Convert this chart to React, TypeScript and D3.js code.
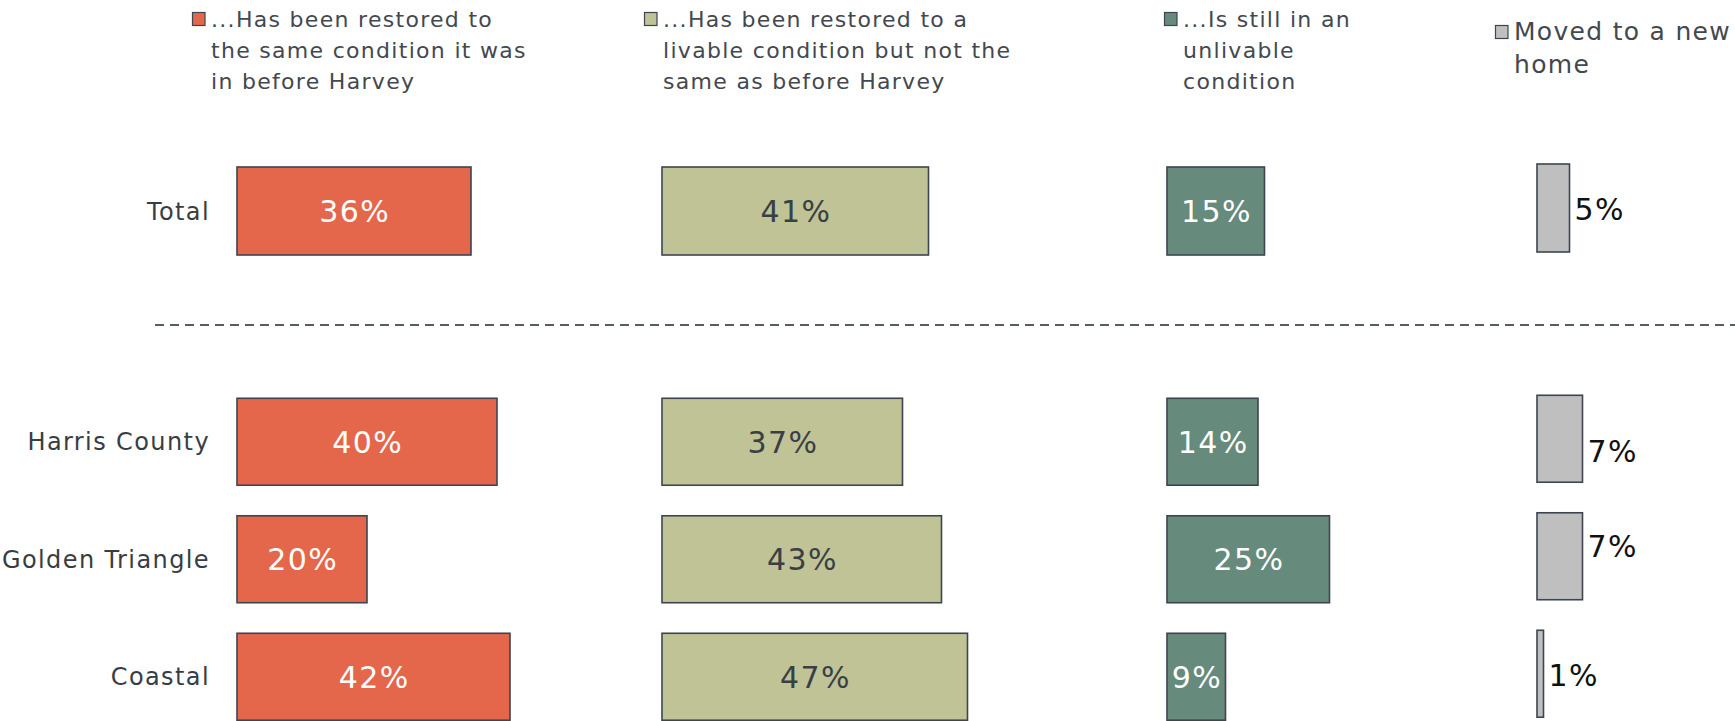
import React from "react";
import * as d3 from "d3";

// ---- Data ----
const CATEGORIES = ["Total", "Harris County", "Golden Triangle", "Coastal"];
const SERIES_KEYS = ["restoredSame", "restoredLivable", "unlivable", "moved"];
const LEGEND_LINES = [
  ["...Has been restored to", "the same condition it was", "in before Harvey"],
  ["...Has been restored to a", "livable condition but not the", "same as before Harvey"],
  ["...Is still in an", "unlivable", "condition"],
  ["Moved to a new", "home"],
];
const RESTORED_SAME = [36, 40, 20, 42];
const RESTORED_LIVABLE = [41, 37, 43, 47];
const UNLIVABLE = [15, 14, 25, 9];
const MOVED = [5, 7, 7, 1];

// ---- Layout / style ----
const W = 1735;
const H = 721;
const COLORS = ["#E5674B", "#BFC396", "#668A7B", "#BFBFBF"];
const LABEL_COLORS = ["#ffffff", "#3a3f46", "#ffffff", "#111111"];
const STROKE = "#3E4550";
const COL_START = [237, 662, 1167, 1537];
const COL_DY = [0, 0, 0, -3];
const LEGEND_SQ_X = [192, 644, 1164, 1495];
const LEGEND_TEXT_DX = [19, 19, 19, 19];
const LEGEND_TOP = [27, 27, 27, 40];
const LEGEND_FONT = [22, 22, 22, 25];
const LEGEND_LH = [31, 31, 31, 33];
const OUTSIDE_DY = [1.5, 12, -10, 1];
const TOTAL_TOP = 167;
const FONT = "'DejaVu Sans', Verdana, sans-serif";

export default function App() {
  const seriesValues = [RESTORED_SAME, RESTORED_LIVABLE, UNLIVABLE, MOVED];
  const x = d3.scaleLinear().domain([0, 100]).range([0, 650]);
  const yRegion = d3
    .scaleBand<string>()
    .domain(CATEGORIES.slice(1))
    .range([383, 735.5])
    .paddingInner(0.26)
    .paddingOuter(0.13);
  const bw = yRegion.bandwidth();
  const rowTop = (c: string) => (c === "Total" ? TOTAL_TOP : (yRegion(c) as number));
  const rowH = (c: string) => (c === "Total" ? 88 : bw);

  return (
    <svg
      width={W}
      height={H}
      style={{ position: "absolute", left: 0, top: 0, background: "#fff" }}
      fontFamily={FONT}
    >
      {/* Legend */}
      {LEGEND_LINES.map((lines, i) => (
        <g key={"lg" + i}>
          <rect
            x={LEGEND_SQ_X[i] + 0.5}
            y={LEGEND_TOP[i] - 14.5}
            width={12.5}
            height={13}
            fill={COLORS[i]}
            stroke={STROKE}
            strokeWidth={1.2}
          />
          {lines.map((t, j) => (
            <text
              key={j}
              x={LEGEND_SQ_X[i] + LEGEND_TEXT_DX[i]}
              y={LEGEND_TOP[i] + j * LEGEND_LH[i]}
              fontSize={LEGEND_FONT[i]}
              fill="#43484f"
              style={{ letterSpacing: "1.3px" }}
            >
              {t}
            </text>
          ))}
        </g>
      ))}

      {/* Category labels */}
      {CATEGORIES.map((c) => (
        <text
          key={"cat" + c}
          x={210}
          y={rowTop(c) + rowH(c) / 2}
          dy="0.36em"
          textAnchor="end"
          fontSize={24}
          fill="#383d43"
          style={{ letterSpacing: "1.4px" }}
        >
          {c}
        </text>
      ))}

      {/* Separator */}
      <line
        x1={155}
        x2={W}
        y1={325}
        y2={325}
        stroke="#555d69"
        strokeWidth={1.8}
        strokeDasharray="9 6"
      />

      {/* Bars */}
      {SERIES_KEYS.map((k, si) =>
        CATEGORIES.map((c, ci) => {
          const v = seriesValues[si][ci];
          const x0 = COL_START[si];
          const w = x(v);
          const y0 = rowTop(c) + COL_DY[si];
          const h = rowH(c);
          const inside = si < 3;
          return (
            <g key={k + c}>
              <rect
                x={x0}
                y={y0}
                width={w}
                height={h}
                fill={COLORS[si]}
                stroke={STROKE}
                strokeWidth={1.6}
              />
              <text
                x={inside ? x0 + w / 2 + 0.7 : x0 + w + 5}
                y={y0 + h / 2 + (inside ? 0 : OUTSIDE_DY[ci])}
                dy="0.36em"
                textAnchor={inside ? "middle" : "start"}
                fontSize={30}
                fill={LABEL_COLORS[si]}
                style={{ letterSpacing: "1.4px" }}
              >
                {v + "%"}
              </text>
            </g>
          );
        })
      )}
    </svg>
  );
}
